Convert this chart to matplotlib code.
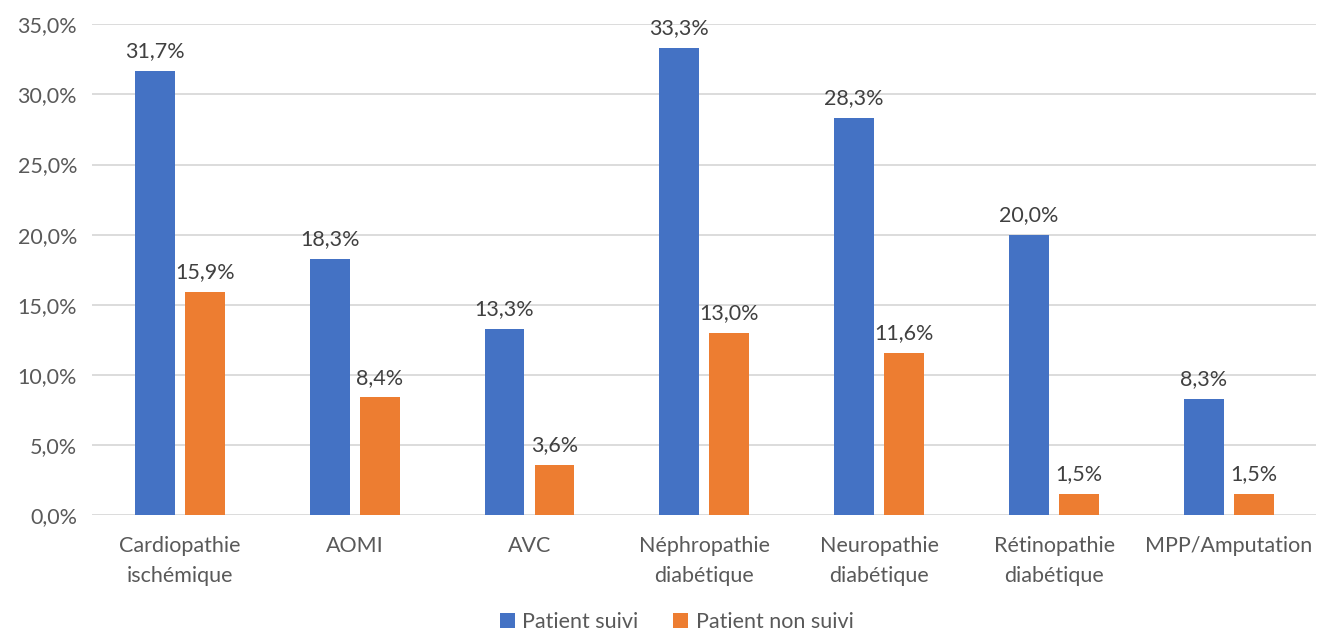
import matplotlib
matplotlib.use('Agg')
import matplotlib.pyplot as plt
import numpy as np

plt.rcParams['font.family'] = ['Lato', 'DejaVu Sans']

categories = ['Cardiopathie\nischémique', 'AOMI', 'AVC', 'Néphropathie\ndiabétique',
              'Neuropathie\ndiabétique', 'Rétinopathie\ndiabétique', 'MPP/Amputation']
suivi = [31.7, 18.3, 13.3, 33.3, 28.3, 20.0, 8.3]
non_suivi = [15.9, 8.4, 3.6, 13.0, 11.6, 1.5, 1.5]
yticks = [0, 5, 10, 15, 20, 25, 30, 35]

blue = '#4472C4'
orange = '#ED7D31'
grey = '#595959'
fs = 15.5

fig = plt.figure(figsize=(13.19, 6.37), dpi=100)
ax = fig.add_axes([0.070, 0.191, 0.928, 0.771])

x = np.arange(len(categories))
w = 0.228
off = 0.143
b1 = ax.bar(x - off, suivi, w, color=blue, label='Patient suivi', zorder=3)
b2 = ax.bar(x + off, non_suivi, w, color=orange, label='Patient non suivi', zorder=3)

def fr(v):
    return f'{v:.1f}%'.replace('.', ',')

for bars, vals in ((b1, suivi), (b2, non_suivi)):
    for r, v in zip(bars, vals):
        ax.annotate(fr(v), (r.get_x() + r.get_width() / 2, v), xytext=(0, 7),
                    textcoords='offset points', ha='center', va='bottom',
                    fontsize=fs, color='#404040')

ax.set_xlim(-0.5, len(categories) - 0.5)
ax.set_ylim(0, 35)
ax.set_yticks(yticks)
ax.set_yticklabels([fr(t) for t in yticks], fontsize=fs, color=grey)
ax.set_xticks(x)
ax.set_xticklabels(categories, fontsize=fs, color=grey, linespacing=1.6)
ax.tick_params(length=0, pad=15)
ax.tick_params(axis='y', pad=11)
ax.grid(axis='y', color='#D9D9D9', linewidth=1.3, zorder=0)
for s in ax.spines.values():
    s.set_visible(False)

fig.legend(handles=[b1, b2], loc='lower center', bbox_to_anchor=(0.513, -0.022), ncol=2,
           frameon=False, fontsize=fs, handlelength=0.7, handleheight=0.7,
           handletextpad=0.35, columnspacing=1.6, labelcolor=grey)

fig.savefig('out.png', dpi=100)
